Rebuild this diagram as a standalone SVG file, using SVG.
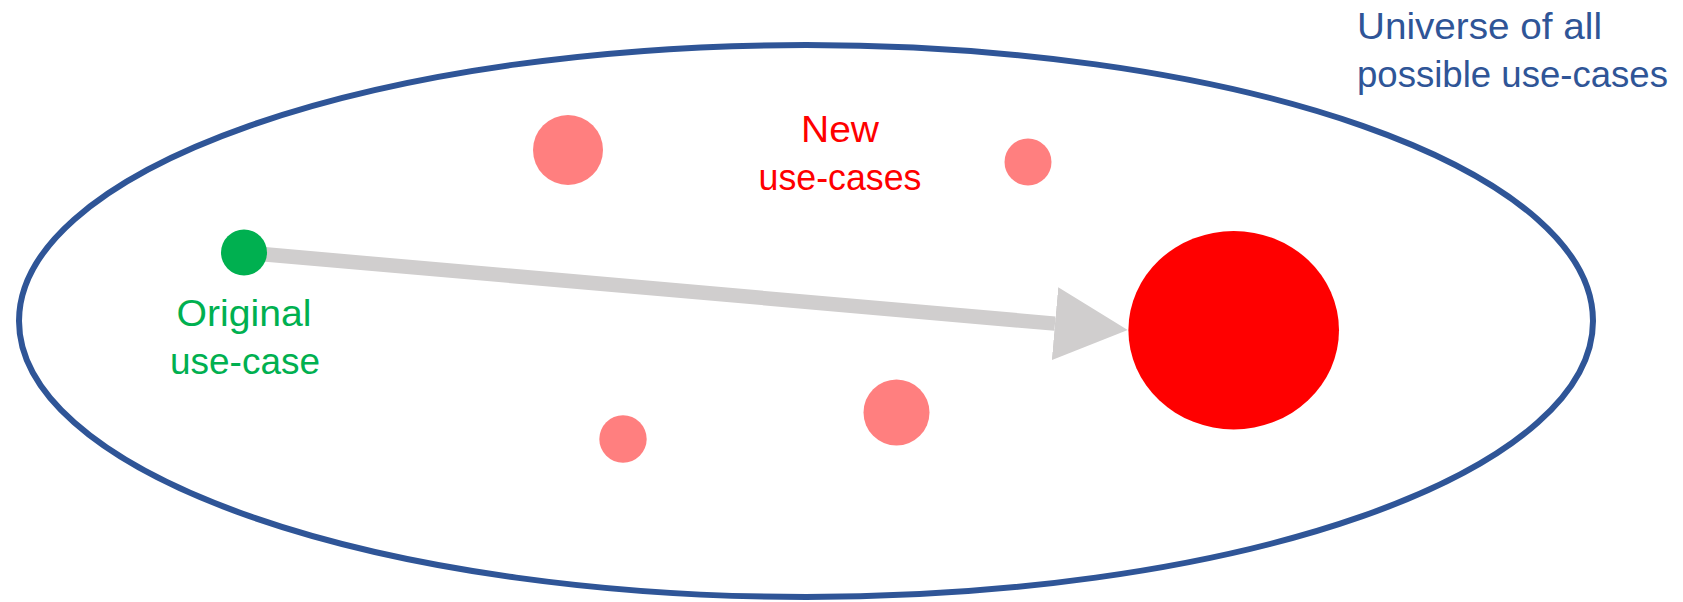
<svg xmlns="http://www.w3.org/2000/svg" width="1683" height="602" viewBox="0 0 1683 602">
  <style>
    .lbl { font-family: "Liberation Sans", Arial, sans-serif; font-size: 36px; }
    .blue { fill: #2F5597; }
    .green { fill: #00B050; }
    .red { fill: #FF0000; }
    .pink { fill: #FF7F7F; }
  </style>
  <defs>
    <marker id="head" markerUnits="userSpaceOnUse" viewBox="0 0 73 73" refX="0" refY="36.5" markerWidth="73" markerHeight="73" orient="auto">
      <path d="M0,0 L73,36.5 L0,73 Z" fill="#D0CECE"/>
    </marker>
  </defs>
  <rect width="1683" height="602" fill="#FFFFFF"/>

  <g id="universe">
    <ellipse cx="806" cy="321" rx="787" ry="276" fill="none" stroke="#2F5597" stroke-width="6"/>
    <text class="lbl blue" x="1357" y="39" textLength="245" lengthAdjust="spacingAndGlyphs">Universe of all</text>
    <text class="lbl blue" x="1357" y="87" textLength="311" lengthAdjust="spacingAndGlyphs">possible use-cases</text>
  </g>

  <g id="connectors">
    <line x1="244" y1="252.5" x2="1055" y2="323.6" stroke="#D0CECE" stroke-width="14.5" marker-end="url(#head)"/>
  </g>

  <g id="original">
    <circle class="green" cx="244" cy="252.5" r="23"/>
    <text class="lbl green" x="244" y="326" text-anchor="middle" textLength="135" lengthAdjust="spacingAndGlyphs">Original</text>
    <text class="lbl green" x="245" y="374" text-anchor="middle" textLength="150" lengthAdjust="spacingAndGlyphs">use-case</text>
  </g>

  <g id="new-label">
    <text class="lbl red" x="840" y="142" text-anchor="middle" textLength="78" lengthAdjust="spacingAndGlyphs">New</text>
    <text class="lbl red" x="840" y="190" text-anchor="middle" textLength="163" lengthAdjust="spacingAndGlyphs">use-cases</text>
  </g>

  <g id="new1"><circle class="pink" cx="568" cy="150" r="35"/></g>
  <g id="new2"><circle class="pink" cx="1028" cy="162" r="23.5"/></g>
  <g id="new3"><circle class="pink" cx="623" cy="439" r="23.7"/></g>
  <g id="new4"><circle class="pink" cx="896.5" cy="412.5" r="33"/></g>

  <g id="target">
    <ellipse class="red" cx="1233.7" cy="330.2" rx="105.3" ry="99.2"/>
  </g>
</svg>
